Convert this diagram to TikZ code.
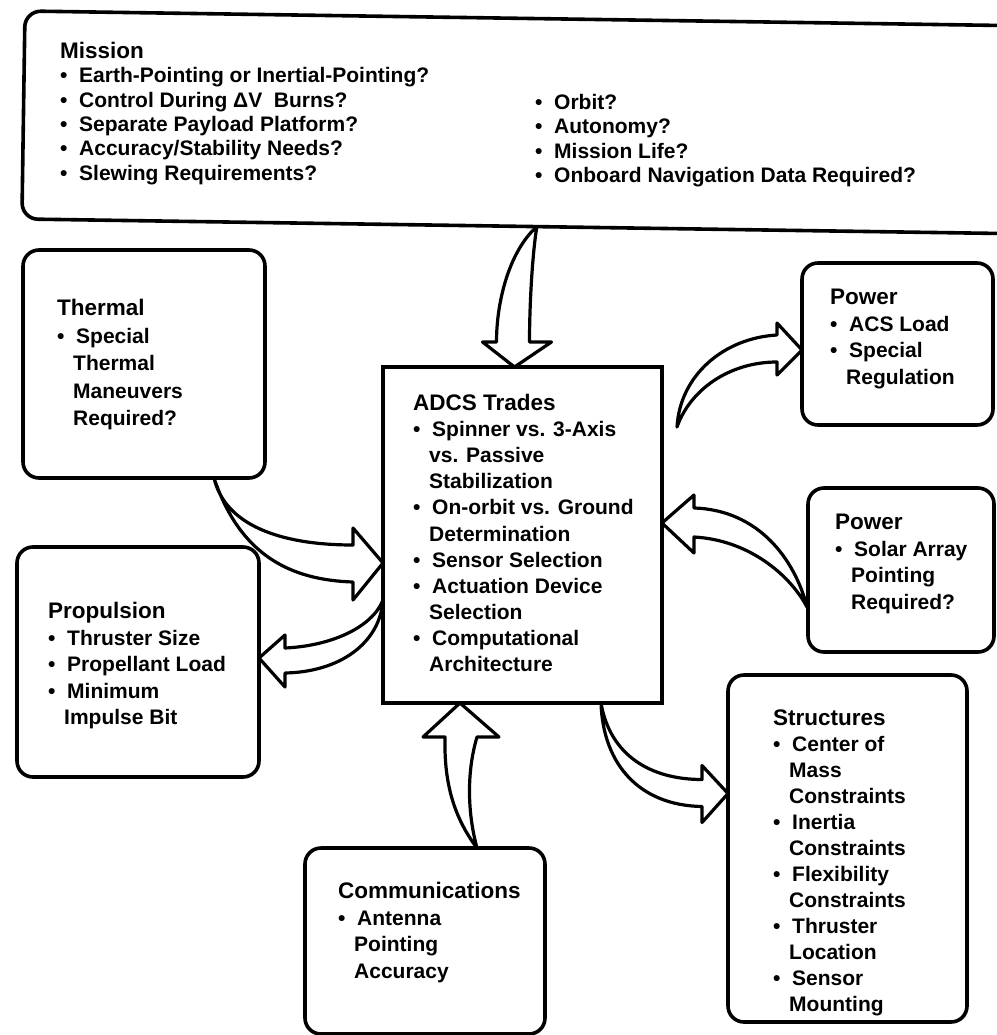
\documentclass[tikz,border=0pt]{standalone}
\usepackage{fontspec}
\setmainfont{Liberation Sans}
\usetikzlibrary{positioning, calc}

\newcommand{\hd}[1]{{\fontsize{22.5}{26.5}\selectfont #1}}
\newcommand{\bitem}{\makebox[19pt][l]{\textbullet}}
\newcommand{\bcont}{\hspace*{16pt}}

\begin{document}
\begin{tikzpicture}[
    x=1pt, y=-1pt,
    box/.style={draw, line width=3.6pt, rounded corners=16pt, anchor=north west,
                inner sep=0pt, outer sep=0pt},
    flatbox/.style={box, sharp corners},
    txt/.style={align=left, inner sep=0pt, font=\bfseries\fontsize{21}{26.5}\selectfont},
    mtxt/.style={txt, font=\bfseries\fontsize{21}{24.3}\selectfont},
    blockarrow/.style={draw, line width=3.2pt, line join=round},
]
\useasboundingbox (0,0) rectangle (996,1035);

% boxes
\node[box, rotate=-0.85, minimum width=1000pt, minimum height=208pt] (mission) at (25,11) {};
\node[box, minimum width=242pt, minimum height=228pt] (thermal) at (23,250) {};
\node[box, minimum width=242pt, minimum height=230pt] (propulsion) at (17,547) {};
\node[flatbox, minimum width=279pt, minimum height=336pt] (adcs) at (383,367) {};
\node[box, minimum width=191pt, minimum height=162pt] (powerload) at (802,263) {};
\node[box, minimum width=186pt, minimum height=164pt] (powersolar) at (808,488) {};
\node[box, minimum width=239pt, minimum height=347pt] (structures) at (728,675) {};
\node[box, minimum width=240pt, minimum height=186pt] (comms) at (305,848) {};

% texts
\node[mtxt, anchor=north west] (missiontxt) at (60,42)
  {\hd{Mission}\\ \bitem Earth-Pointing or Inertial-Pointing?\\ \bitem Control During ΔV~ Burns?\\
   \bitem Separate Payload Platform?\\ \bitem Accuracy/Stability Needs?\\ \bitem Slewing Requirements?};
\node[mtxt, anchor=north west] (missionalt) at (535,94)
  {\bitem Orbit?\\ \bitem Autonomy?\\ \bitem Mission Life?\\ \bitem Onboard Navigation Data Required?};
\node[txt, font=\bfseries\fontsize{21}{27.5}\selectfont, below right=49pt and 34pt of thermal.north west] (thermaltxt)
  {\hd{Thermal}\\ \bitem Special\\ \bcont Thermal\\ \bcont Maneuvers\\ \bcont Required?};
\node[txt, below right=55pt and 31pt of propulsion.north west] (propulsiontxt)
  {\hd{Propulsion}\\ \bitem Thruster Size\\ \bitem Propellant Load\\ \bitem Minimum\\ \bcont Impulse Bit};
\node[txt, font=\bfseries\fontsize{21}{26.1}\selectfont, below right=27pt and 30pt of adcs.north west] (adcstxt)
  {\hd{ADCS Trades}\\ \bitem Spinner vs. 3-Axis\\ \bcont vs. Passive\\ \bcont Stabilization\\
   \bitem On-orbit vs. Ground\\ \bcont Determination\\ \bitem Sensor Selection\\
   \bitem Actuation Device\\ \bcont Selection\\ \bitem Computational\\ \bcont Architecture};
\node[txt, below right=26pt and 28pt of powerload.north west] (powerloadtxt)
  {\hd{Power}\\ \bitem ACS Load\\ \bitem Special\\ \bcont Regulation};
\node[txt, below right=26pt and 27pt of powersolar.north west] (powersolartxt)
  {\hd{Power}\\ \bitem Solar Array\\ \bcont Pointing\\ \bcont Required?};
\node[txt, font=\bfseries\fontsize{21}{26}\selectfont, below right=35pt and 45pt of structures.north west] (structurestxt)
  {\hd{Structures}\\ \bitem Center of\\ \bcont Mass\\ \bcont Constraints\\ \bitem Inertia\\ \bcont Constraints\\
   \bitem Flexibility\\ \bcont Constraints\\ \bitem Thruster\\ \bcont Location\\ \bitem Sensor\\ \bcont Mounting};
\node[txt, below right=34pt and 33pt of comms.north west] (commstxt)
  {\hd{Communications}\\ \bitem Antenna\\ \bcont Pointing\\ \bcont Accuracy};

% mission -> adcs
\coordinate (mt) at ($(mission.south west)!0.515!(mission.south east)$);
\coordinate (mp) at ($(adcs.north)+(-8,0)$);
\draw[blockarrow] (mt) .. controls +(-27,24) and +(0,-42) .. ($(mp)+(-18,-25)$)
  -- ($(mp)+(-32,-25)$) -- (mp) -- ($(mp)+(37,-25)$) -- ($(mp)+(15,-25)$)
  .. controls +(0,-42) and +(-4,24) .. (mt) -- cycle;

% thermal -> adcs
\coordinate (tt) at ($(thermal.south west)+(191,0)$);
\coordinate (tp) at ($(adcs.west)+(0,28)$);
\draw[blockarrow] (tt) .. controls +(11,47) and +(-73,0) .. ($(tp)+(-30,-18)$)
  -- ($(tp)+(-30,-35)$) -- (tp) -- ($(tp)+(-30,37)$) -- ($(tp)+(-30,19)$)
  .. controls +(-63,-2) and +(26,77) .. (tt) -- cycle;

% adcs -> propulsion
\coordinate (at) at ($(adcs.west)+(0,65)$);
\coordinate (pp) at ($(propulsion.east)+(0,-4)$);
\draw[blockarrow] (at) .. controls +(-11,28) and +(45,-2) .. ($(pp)+(26,-10)$)
  -- ($(pp)+(26,-23)$) -- (pp) -- ($(pp)+(26,29)$) -- ($(pp)+(26,15)$)
  .. controls +(55,-1) and +(-3,43) .. (at) -- cycle;

% adcs -> power (load)
\coordinate (ut) at ($(adcs.north east)+(15,60)$);
\coordinate (up) at ($(powerload.west)+(0,6)$);
\draw[blockarrow] (ut) .. controls +(3,-52) and +(-53,3) .. ($(up)+(-25,-15)$)
  -- ($(up)+(-25,-27)$) -- (up) -- ($(up)+(-25,25)$) -- ($(up)+(-25,12)$)
  .. controls +(-48,0) and +(13,-37) .. (ut) -- cycle;

% power (solar) -> adcs
\coordinate (st) at ($(powersolar.west)+(-1,37)$);
\coordinate (sp) at ($(adcs.east)+(0,-12)$);
\draw[blockarrow] (st) .. controls +(-12,-47) and +(65,2) .. ($(sp)+(32,-15)$)
  -- ($(sp)+(32,-28)$) -- (sp) -- ($(sp)+(32,30)$) -- ($(sp)+(32,14)$)
  .. controls +(55,3) and +(-17,-32) .. (st) -- cycle;

% adcs -> structures
\coordinate (rt) at ($(adcs.south east)+(-61,0)$);
\coordinate (rp) at ($(structures.west)+(0,-55)$);
\draw[blockarrow] (rt) .. controls +(9,52) and +(-52,0) .. ($(rp)+(-26,-14)$)
  -- ($(rp)+(-26,-28)$) -- (rp) -- ($(rp)+(-26,29)$) -- ($(rp)+(-26,13)$)
  .. controls +(-62,-1) and +(2,62) .. (rt) -- cycle;

% communications -> adcs
\coordinate (ct) at ($(comms.north west)+(172,0)$);
\coordinate (cp) at ($(adcs.south west)+(77,0)$);
\draw[blockarrow] (ct) .. controls +(-25,-33) and +(-1,42) .. ($(cp)+(-15,34)$)
  -- ($(cp)+(-37,34)$) -- (cp) -- ($(cp)+(39,34)$) -- ($(cp)+(17,34)$)
  .. controls +(-11,37) and +(-9,-33) .. (ct) -- cycle;

\end{tikzpicture}
\end{document}
